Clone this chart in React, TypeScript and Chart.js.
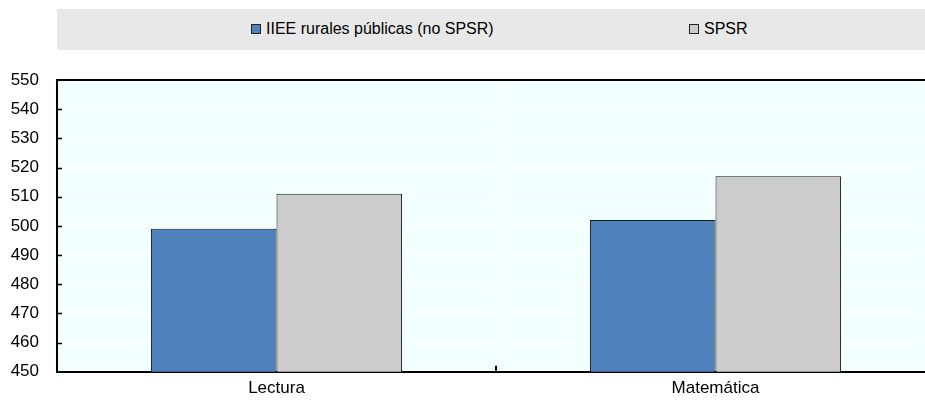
import React, { useEffect, useRef } from "react";
import { Chart, registerables } from "chart.js";

Chart.register(...registerables);

const categories = ["Lectura", "Matemática"];
const seriesNames = ["IIEE rurales públicas (no SPSR)", "SPSR"];
const ruralValues = [499, 502];
const spsrValues = [511, 517];
const yMin = 450;
const yMax = 550;
const yStep = 10;

const BLUE = "#4F81BD";
const GREY = "#CCCCCC";
const FONT = "'Liberation Sans', Arial, sans-serif";

const framePlugin = {
  id: "frame",
  beforeDraw(chart: any) {
    const { ctx, chartArea: a } = chart;
    ctx.save();
    ctx.fillStyle = "#F2FFFF";
    ctx.fillRect(a.left, a.top, a.right - a.left, a.bottom - a.top);
    ctx.restore();
  },
  afterDraw(chart: any) {
    const { ctx, chartArea: a, scales } = chart;
    ctx.save();
    ctx.strokeStyle = "#000";
    ctx.lineWidth = 2;
    ctx.beginPath();
    ctx.moveTo(a.left, a.top);
    ctx.lineTo(a.right, a.top);
    ctx.stroke();
    ctx.lineWidth = 1.5;
    const y = scales.y;
    for (let v = yMin + yStep; v < yMax; v += yStep) {
      const py = Math.round(y.getPixelForValue(v)) + 0.5;
      ctx.beginPath();
      ctx.moveTo(a.left, py);
      ctx.lineTo(a.left + 5, py);
      ctx.stroke();
    }
    const x = scales.x;
    ctx.lineWidth = 2;
    for (let i = 0; i < categories.length - 1; i++) {
      const px = Math.round((x.getPixelForValue(i) + x.getPixelForValue(i + 1)) / 2);
      ctx.beginPath();
      ctx.moveTo(px, a.bottom - 1);
      ctx.lineTo(px, a.bottom - 6);
      ctx.stroke();
    }
    ctx.restore();
  },
};

export default function App() {
  const ref = useRef<HTMLCanvasElement | null>(null);

  useEffect(() => {
    if (!ref.current) return;
    const chart = new Chart(ref.current, {
      type: "bar",
      data: {
        labels: categories,
        datasets: [
          {
            label: seriesNames[0],
            data: ruralValues,
            backgroundColor: BLUE,
            borderColor: "#1a1a1a",
            borderWidth: 1,
          },
          {
            label: seriesNames[1],
            data: spsrValues,
            backgroundColor: GREY,
            borderColor: "#1a1a1a",
            borderWidth: 1,
          },
        ],
      },
      options: {
        responsive: false,
        animation: false,
        devicePixelRatio: 1,
        layout: { padding: { top: 80, right: 0, bottom: 0, left: 0 } },
        datasets: { bar: { barPercentage: 1, categoryPercentage: 0.572 } },
        plugins: {
          legend: { display: false },
          tooltip: { enabled: false },
        },
        scales: {
          x: {
            offset: true,
            grid: { display: true, color: "#FFFFFF", lineWidth: 1, drawTicks: false, offset: true },
            border: { display: true, color: "#000", width: 2 },
            ticks: { color: "#000", font: { family: FONT, size: 17 }, padding: 6 },
            afterFit: (s: any) => { s.height = 28; },
          },
          y: {
            min: yMin,
            max: yMax,
            ticks: { stepSize: yStep, color: "#000", font: { family: FONT, size: 17 }, padding: 18 },
            grid: { color: "#FFFFFF", lineWidth: 1, drawTicks: false },
            border: { display: true, color: "#000", width: 2 },
            afterFit: (s: any) => { s.width = 57; },
          },
        },
      },
      plugins: [framePlugin],
    });
    return () => chart.destroy();
  }, []);

  const sw = (c: string) => (
    <span style={{ display: "inline-block", boxSizing: "border-box", width: 10, height: 10, background: c, border: "1px solid #222", marginRight: 5, verticalAlign: "middle", position: "relative", top: -1 }} />
  );

  const itemStyle: React.CSSProperties = { position: "absolute", top: 19, fontFamily: FONT, fontSize: 16, color: "#000", whiteSpace: "nowrap", lineHeight: "20px" };

  return (
    <div style={{ position: "fixed", left: 0, top: 0, width: 925, height: 400, overflow: "hidden", background: "#fff" }}>
      <div style={{ position: "absolute", left: 57, top: 9, width: 868, height: 41, background: "#E8E8E8" }} />
      <div style={{ ...itemStyle, left: 251 }}>
        {sw(BLUE)}{seriesNames[0]}
      </div>
      <div style={{ ...itemStyle, left: 689 }}>
        {sw(GREY)}{seriesNames[1]}
      </div>
      <canvas ref={ref} width={935} height={400} style={{ position: "absolute", left: 0, top: 0, width: 935, height: 400 }} />
    </div>
  );
}
